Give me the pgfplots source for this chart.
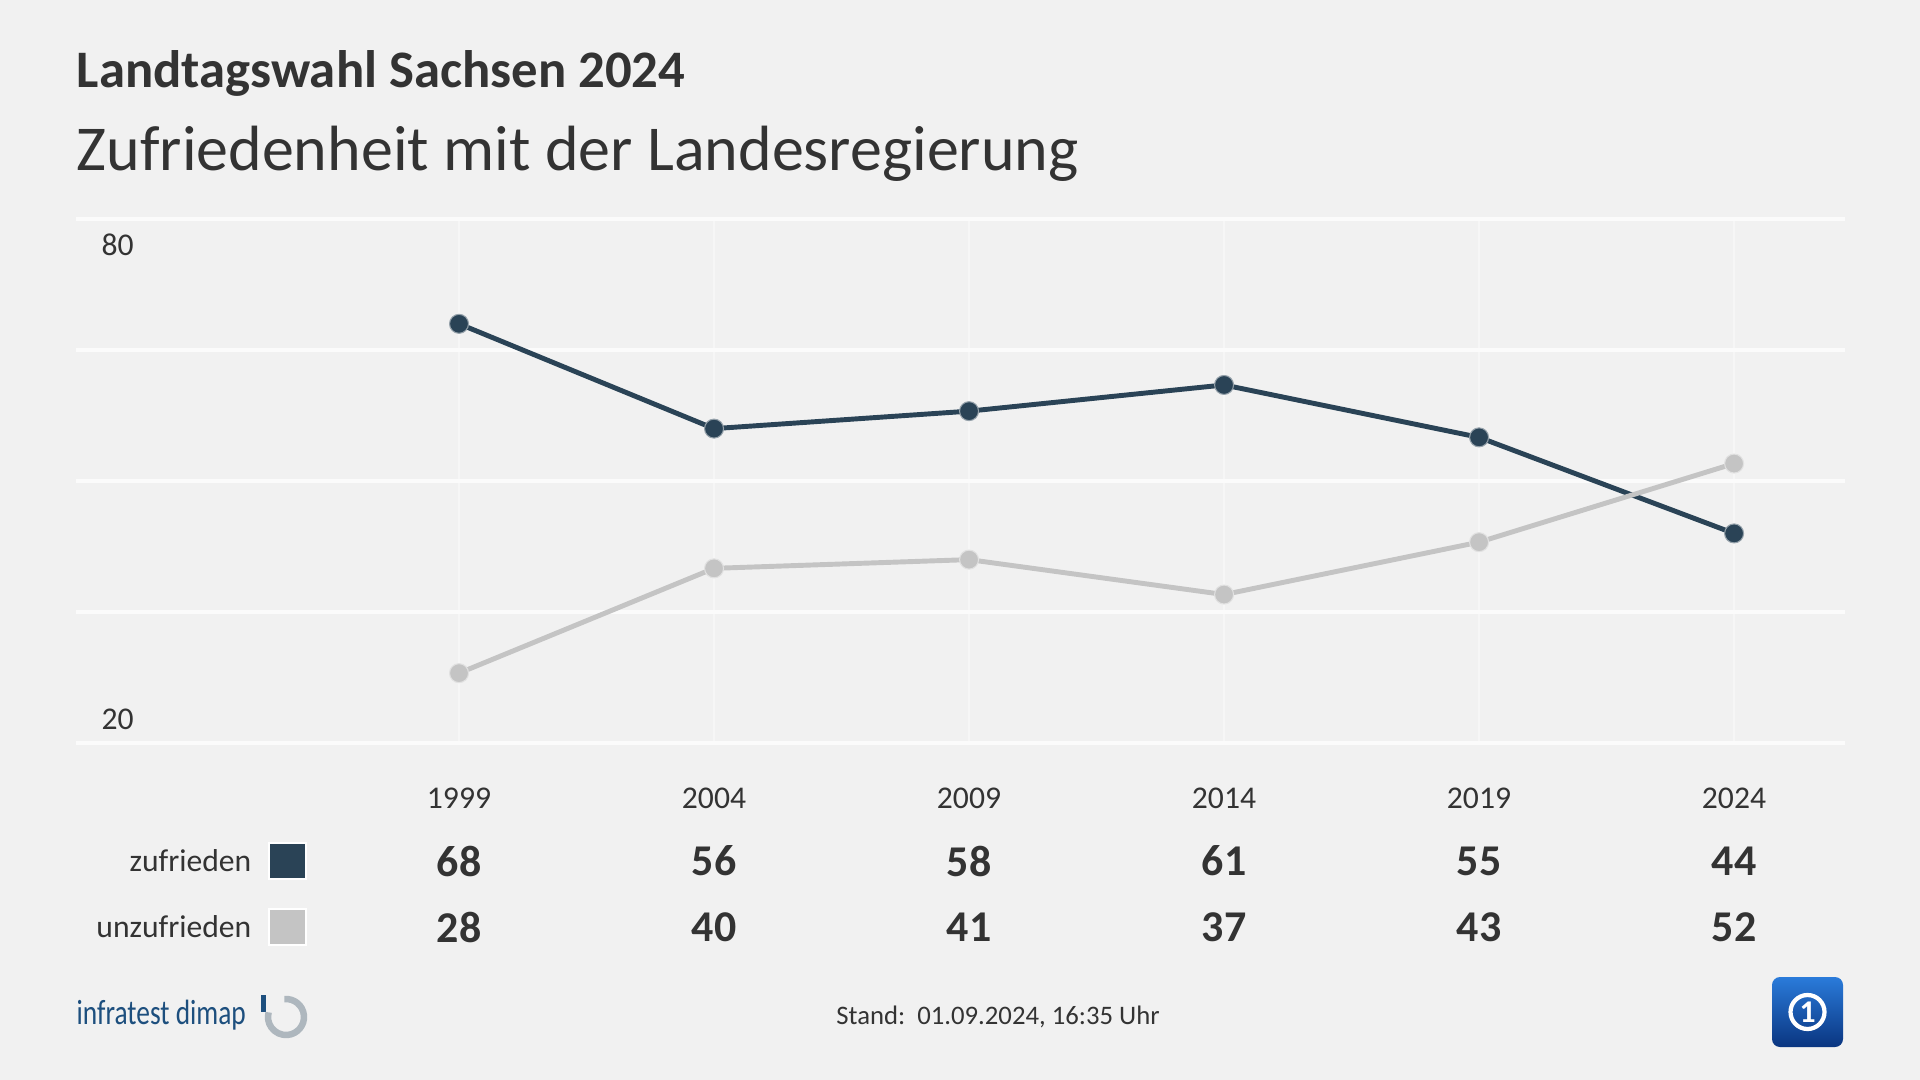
\documentclass[border=0pt]{standalone}
\usepackage{graphicx}
\usepackage{pgfplots}
\pgfplotsset{compat=1.18}
\usepackage{fontspec}
\setmainfont{Carlito}
\definecolor{bg}{HTML}{F1F1F1}
\definecolor{dark}{HTML}{2A4356}
\definecolor{light}{HTML}{C4C4C4}
\definecolor{txt}{HTML}{333333}
\definecolor{idblue}{HTML}{1D4F7E}
\definecolor{idgrey}{HTML}{AEB7BE}
\definecolor{ardtop}{HTML}{2A7BDA}
\definecolor{ardbot}{HTML}{0A3580}
\begin{document}
\begin{tikzpicture}
\fill[bg] (0,0) rectangle (19.2,-10.8);
\node[anchor=base west, inner sep=0, text=txt, font=\fontsize{15}{18}\selectfont\bfseries] at (0.76,-0.88) {Landtagswahl Sachsen 2024};
\node[anchor=base west, inner sep=0, text=txt, font=\fontsize{18.2}{22}\selectfont] at (0.76,-1.71) {Zufriedenheit mit der Landesregierung};
\begin{axis}[
  at={(0.76cm,-7.43cm)}, anchor=south west,
  width=17.69cm, height=5.24cm, scale only axis,
  xmin=-1.502, xmax=5.435, ymin=20, ymax=80,
  axis line style={draw=none},
  xtick={0,1,2,3,4,5}, ytick={20,35,50,65,80},
  xticklabels={}, yticklabels={},
  major tick length=0pt,
  xmajorgrids, ymajorgrids,
  x grid style={draw=white!35!bg, line width=0.6pt},
  y grid style={draw=white!75!bg, line width=1pt},
  clip=false,
]
\addplot[dark, line width=1.4pt, mark=*, mark size=2.7pt, mark options={fill=dark, draw=white!50!dark, line width=0.3pt}] coordinates {(0,68)(1,56)(2,58)(3,61)(4,55)(5,44)};
\addplot[light, line width=1.4pt, mark=*, mark size=2.7pt, mark options={fill=light, draw=white!50!light, line width=0.3pt}] coordinates {(0,28)(1,40)(2,41)(3,37)(4,43)(5,52)};
\end{axis}
% y labels
\node[anchor=west, inner sep=0, text=txt, font=\fontsize{9}{11}\selectfont] at (1.01,-2.45) {80};
\node[anchor=west, inner sep=0, text=txt, font=\fontsize{9}{11}\selectfont] at (1.01,-7.19) {20};
% table
\foreach \x/\yr/\a/\b in {4.59/1999/68/28, 7.14/2004/56/40, 9.69/2009/58/41, 12.24/2014/61/37, 14.79/2019/55/43, 17.34/2024/44/52}{
  \node[text=txt, inner sep=0, font=\fontsize{9}{11}\selectfont] at (\x,-7.98) {\yr};
  \node[text=txt, inner sep=0, font=\fontsize{12.5}{15}\selectfont\bfseries] at (\x,-8.61) {\a};
  \node[text=txt, inner sep=0, font=\fontsize{12.5}{15}\selectfont\bfseries] at (\x,-9.27) {\b};
}
\node[anchor=east, text=txt, inner sep=0, font=\fontsize{9}{11}\selectfont] at (2.52,-8.61) {zufrieden};
\node[anchor=east, text=txt, inner sep=0, font=\fontsize{9}{11}\selectfont] at (2.52,-9.27) {unzufrieden};
\filldraw[fill=dark, draw=white, line width=0.6pt] (2.69,-8.43) rectangle (3.06,-8.79);
\filldraw[fill=light, draw=white, line width=0.6pt] (2.69,-9.09) rectangle (3.06,-9.45);
% footer
\node[anchor=west, inner sep=0, text=idblue, font=\fontsize{10}{12}\selectfont] at (0.76,-10.15) {\scalebox{0.78}[1]{infratest dimap}};
\fill[idblue] (2.61,-9.95) rectangle (2.66,-10.12);
\draw[idgrey, line width=0.065cm] (2.86,-10.17) ++(95:0.18) arc[start angle=95, end angle=-195, radius=0.18];
\node[text=txt, inner sep=0, font=\fontsize{7.6}{9}\selectfont] at (9.98,-10.17) {Stand:\ \ 01.09.2024, 16:35 Uhr};
\shade[top color=ardtop, bottom color=ardbot, rounded corners=0.08cm] (17.72,-9.77) rectangle (18.43,-10.47);
\draw[white, line width=1.2pt] (18.075,-10.12) circle[radius=0.17];
\node[text=white, inner sep=0, font=\fontsize{9}{10}\selectfont\bfseries] at (18.075,-10.12) {1};
\end{tikzpicture}
\end{document}
